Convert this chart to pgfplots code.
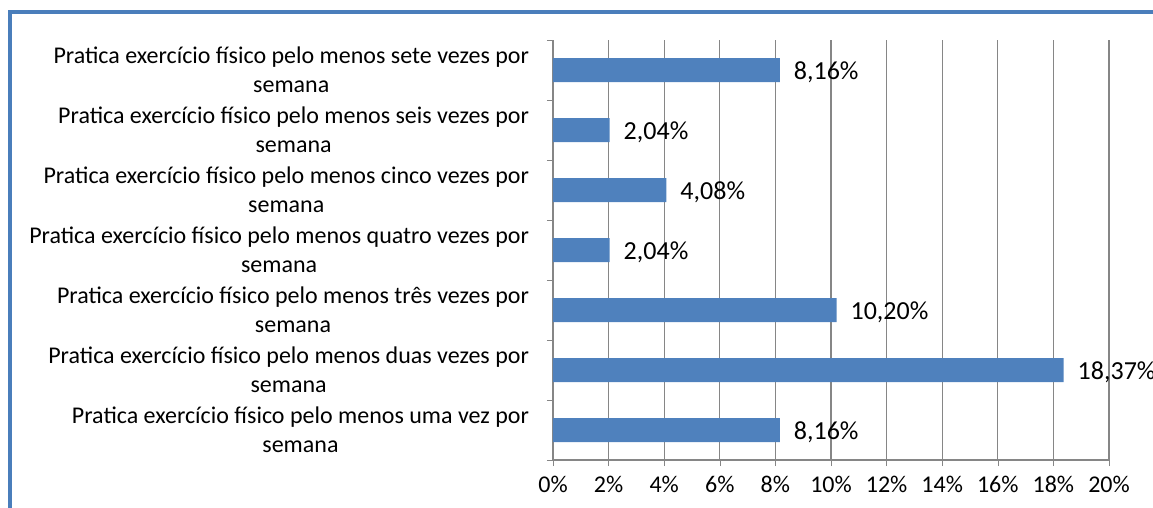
\documentclass[border=0pt]{standalone}
\usepackage{pgfplots}
\pgfplotsset{compat=1.18}
\usepackage{fontspec}
\setmainfont{Carlito}
\definecolor{barblue}{HTML}{4F81BD}
\definecolor{gridgray}{HTML}{868686}
\definecolor{frameblue}{HTML}{4A7EBB}

\begin{document}
\begin{tikzpicture}
% 1 px of the reference = 0.75pt; axis origin (0%, bottom) at (0,0)
\useasboundingbox (-414.75pt,-35.25pt) rectangle (450pt,345pt);
\draw[frameblue, line width=2.5pt] (-407.25pt,-40pt) -- (-407.25pt,336pt) -- (460pt,336pt);
\begin{axis}[
    xbar,
    scale only axis,
    width=417pt, height=315pt,
    bar width=18pt,
    xmin=0, xmax=20,
    ymin=0.5, ymax=7.5,
    xtick={0,2,...,20},
    xticklabels={0\%,2\%,4\%,6\%,8\%,10\%,12\%,14\%,16\%,18\%,20\%},
    ytick={1,...,7},
    yticklabels={
        {Pratica exercício físico pelo menos uma vez por\\semana},
        {Pratica exercício físico pelo menos duas vezes por\\semana},
        {Pratica exercício físico pelo menos três vezes por\\semana},
        {Pratica exercício físico pelo menos quatro vezes por\\semana},
        {Pratica exercício físico pelo menos cinco vezes por\\semana},
        {Pratica exercício físico pelo menos seis vezes por\\semana},
        {Pratica exercício físico pelo menos sete vezes por\\semana}},
    ytick style={draw=none},
    extra y ticks={0.5,1.5,...,7.5},
    extra y tick labels={},
    extra y tick style={grid=none, ytick style={draw=gridgray}},
    tick align=outside,
    major tick length=4.5pt,
    xtick style={gridgray},
    axis x line*=bottom,
    axis y line*=left,
    axis line style={gridgray, line width=0.8pt},
    xmajorgrids=true,
    grid style={gridgray, line width=0.9pt},
    tick label style={font=\fontsize{18}{22}\selectfont, text=black},
    yticklabel style={align=center, xshift=-10pt},
    xticklabel style={yshift=-4pt},
    /pgf/number format/assume math mode=true,
    point meta=x,
    nodes near coords={\pgfmathprintnumber[use comma,fixed,fixed zerofill,precision=2]{\pgfplotspointmeta}\%},
    every node near coord/.append style={anchor=west, xshift=7pt, yshift=-1.5pt, font=\fontsize{19.5}{23}\selectfont, text=black},
    clip=false,
]
\addplot[fill=barblue, draw=none] coordinates {
    (8.16,1)
    (18.37,2)
    (10.20,3)
    (2.04,4)
    (4.08,5)
    (2.04,6)
    (8.16,7)
};
\end{axis}
\end{tikzpicture}
\end{document}
